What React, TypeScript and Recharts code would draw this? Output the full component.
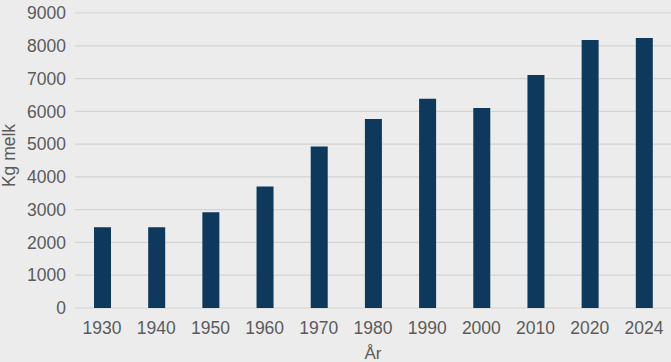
import React from 'react';
import { BarChart, Bar, XAxis, YAxis, CartesianGrid } from 'recharts';

const years = ['1930', '1940', '1950', '1960', '1970', '1980', '1990', '2000', '2010', '2020', '2024'];
const milk = [2460, 2460, 2920, 3710, 4930, 5765, 6385, 6100, 7110, 8175, 8235];
const yTicks = [0, 1000, 2000, 3000, 4000, 5000, 6000, 7000, 8000, 9000];

const data = years.map((y, i) => ({ year: y, value: milk[i] }));

const FONT = '"Liberation Sans", Arial, Helvetica, sans-serif';
const TEXT = '#5b5b5b';

const YLabel = (props: any) => {
  const vb = props.viewBox || {};
  const cx = 15;
  const cy = vb.y + vb.height / 2 - 5;
  return (
    <text
      x={cx}
      y={cy}
      transform={`rotate(-90, ${cx}, ${cy})`}
      textAnchor="middle"
      fill={TEXT}
      fontSize={17.5}
      fontFamily={FONT}
    >
      Kg melk
    </text>
  );
};

export default function App() {
  return (
    <div style={{ position: 'absolute', left: 0, top: 0, width: 671, height: 362, background: '#ebeceb' }}>
      <BarChart
        width={671}
        height={362}
        data={data}
        margin={{ top: 13, right: 0, bottom: 0, left: 0 }}
      >
        <CartesianGrid vertical={false} stroke="#d3d4d4" strokeWidth={1.2} />
        <XAxis
          dataKey="year"
          height={54}
          axisLine={false}
          tickLine={false}
          tickMargin={8}
          tick={{ fill: TEXT, fontSize: 17.5, fontFamily: FONT }}
          label={{ value: 'År', position: 'insideBottom', offset: 3, fill: TEXT, fontSize: 17, fontFamily: FONT }}
        />
        <YAxis
          width={75}
          domain={[0, 9000]}
          ticks={yTicks}
          axisLine={false}
          tickLine={false}
          tickMargin={3}
          tick={{ fill: TEXT, fontSize: 17.5, fontFamily: FONT }}
          label={<YLabel />}
        />
        <Bar dataKey="value" fill="#0f395c" barSize={17} isAnimationActive={false} />
      </BarChart>
    </div>
  );
}
